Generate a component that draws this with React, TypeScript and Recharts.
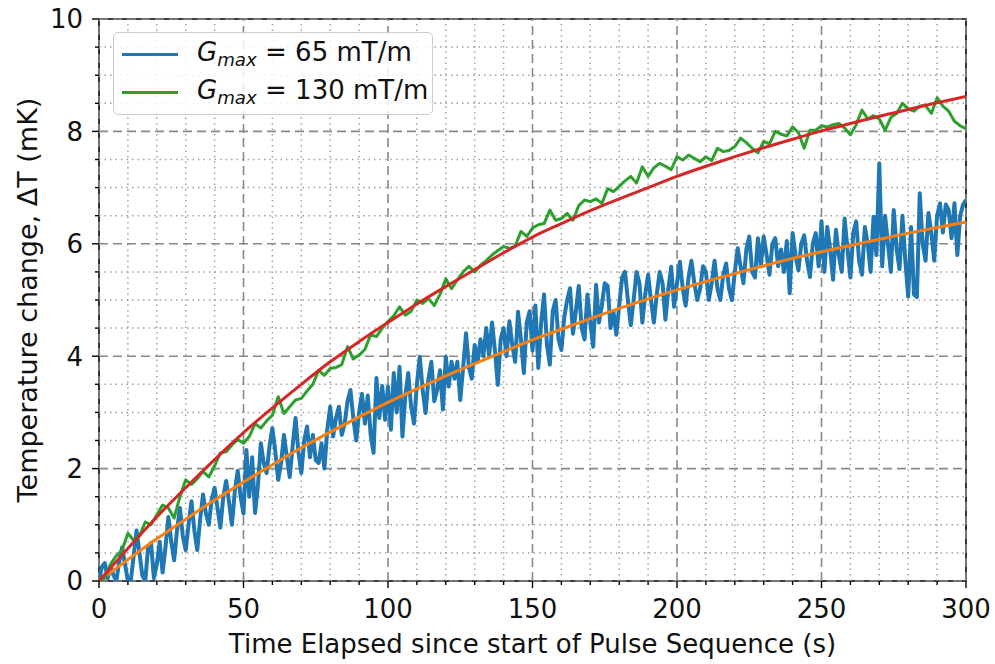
import { LineChart, Line, XAxis, YAxis, ReferenceLine, ReferenceArea, Legend } from "recharts";

// fitted curves, read every 10 s
const fitTime = [0, 10, 20, 30, 40, 50, 60, 70, 80, 90, 100, 110, 120, 130, 140, 150, 160, 170, 180, 190, 200, 210, 220, 230, 240, 250, 260, 270, 280, 290, 300];
const fit130 = [0, 0.58, 1.14, 1.66, 2.16, 2.64, 3.08, 3.5, 3.9, 4.26, 4.6, 4.93, 5.24, 5.54, 5.84, 6.12, 6.36, 6.59, 6.8, 7.0, 7.2, 7.38, 7.55, 7.71, 7.86, 8.01, 8.14, 8.27, 8.39, 8.51, 8.62];
const fit65 = [0, 0.38, 0.75, 1.1, 1.44, 1.76, 2.07, 2.37, 2.65, 2.92, 3.18, 3.42, 3.65, 3.87, 4.08, 4.29, 4.48, 4.67, 4.85, 5.02, 5.18, 5.33, 5.47, 5.61, 5.74, 5.86, 5.97, 6.08, 6.19, 6.29, 6.39];

// Gmax = 65 mT/m, one sample per second (0..300 s)
const meas65 = [
  0.0, 0.25, 0.32, 0.05, 0.27, 0.1, 0.0, 0.35, 0.6, 0.3,
  0.0, 0.0, 0.45, 0.9, 0.5, 0.1, 0.0, 0.6, 0.68, 0.05,
  0.3, 0.7, 0.15, 0.6, 1.14, 0.7, 0.37, 0.9, 1.3, 0.8,
  0.55, 1.0, 1.42, 0.9, 0.55, 1.1, 1.54, 1.2, 1.0, 1.45,
  1.66, 1.3, 0.95, 1.5, 1.78, 1.4, 1.0, 1.6, 1.96, 1.5,
  1.2, 2.33, 1.5, 2.2, 1.21, 1.7, 2.45, 2.1, 1.92, 2.4,
  2.72, 2.3, 1.8, 2.1, 2.6, 2.2, 1.85, 2.4, 2.9, 2.3,
  1.92, 2.5, 2.75, 2.2, 2.6, 2.15, 2.1, 2.45, 2.0, 2.7,
  3.1, 2.57, 2.9, 3.1, 2.6, 2.8, 3.2, 3.4, 2.9, 2.5,
  3.0, 3.33, 2.8, 3.3, 2.6, 2.28, 3.61, 2.9, 3.47, 2.87,
  3.46, 2.69, 3.7, 3.0, 3.81, 2.57, 3.3, 3.7, 3.1, 2.8,
  3.5, 3.99, 3.4, 2.99, 3.6, 3.9, 3.2, 3.4, 3.75, 3.05,
  3.99, 3.46, 3.9, 3.6, 3.9, 3.22, 3.8, 4.41, 3.8, 3.6,
  4.2, 3.9, 4.3, 4.0, 4.5, 4.0, 4.6, 4.1, 3.49, 4.3,
  4.5, 4.0, 4.62, 4.2, 3.9, 4.79, 4.3, 3.7, 4.6, 4.8,
  4.1, 4.9, 3.79, 4.6, 5.1, 4.2, 3.85, 4.8, 5.0, 4.3,
  4.11, 4.7, 5.0, 5.21, 4.4, 4.8, 5.25, 4.5, 4.3, 5.1,
  4.6, 4.17, 5.27, 4.6, 4.9, 5.3, 5.25, 4.5, 4.8, 4.38,
  4.9, 5.4, 5.5, 5.0, 4.55, 5.0, 5.5, 5.3, 4.6, 5.1,
  5.45, 5.0, 4.6, 5.1, 5.5, 5.3, 4.65, 5.2, 5.59, 4.88,
  5.3, 5.68, 5.2, 4.9, 5.4, 5.7, 5.3, 5.0, 5.2, 5.6,
  5.5, 5.0, 5.3, 5.7, 5.2, 5.0, 5.45, 5.65, 5.2, 5.0,
  5.5, 5.92, 5.6, 5.3, 5.9, 6.13, 5.5, 5.4, 6.1, 5.6,
  6.13, 5.8, 5.45, 6.0, 6.1, 5.6, 5.9, 5.5, 6.05, 5.12,
  6.19, 5.8, 5.53, 6.0, 6.15, 5.7, 5.41, 6.0, 6.19, 5.6,
  6.4, 5.5, 6.3, 5.9, 5.36, 6.25, 5.8, 5.5, 6.45, 5.9,
  5.4, 6.2, 6.4, 5.7, 5.45, 6.3, 6.0, 5.5, 6.48, 5.8,
  7.43, 5.6, 6.5, 6.0, 5.5, 6.6, 5.9, 5.55, 6.5, 5.7,
  5.06, 6.3, 5.1, 5.05, 6.9, 6.0, 5.7, 6.55, 6.2, 5.7,
  6.5, 6.72, 6.2, 6.7, 6.6, 6.1, 6.72, 5.8, 6.5, 6.7,
  6.78,
];

// Gmax = 130 mT/m, one sample every 2 s (0..300 s)
const meas130 = [
  0, 0.05, 0.3, 0.45, 0.55, 0.85, 0.72, 0.8, 1.05, 1.0,
  1.18, 1.35, 1.3, 1.12, 1.5, 1.8, 1.72, 1.82, 1.95, 1.85,
  2.05, 2.28, 2.3, 2.42, 2.52, 2.45, 2.57, 2.8, 2.72, 2.85,
  2.95, 3.28, 2.98, 3.1, 3.22, 3.25, 3.38, 3.5, 3.75, 3.66,
  3.78, 3.8, 3.85, 4.17, 3.95, 4.02, 4.12, 4.38, 4.35, 4.5,
  4.62, 4.72, 4.88, 4.73, 4.8, 5.0, 4.94, 5.03, 4.9, 5.1,
  5.38, 5.2, 5.36, 5.5, 5.6, 5.5, 5.62, 5.7, 5.8, 5.88,
  5.95, 5.92, 5.96, 6.22, 6.13, 6.28, 6.34, 6.36, 6.6, 6.42,
  6.45, 6.54, 6.42, 6.68, 6.78, 6.75, 6.8, 6.72, 6.98, 6.93,
  7.02, 7.12, 7.2, 7.08, 7.37, 7.2, 7.35, 7.43, 7.38, 7.32,
  7.55, 7.49, 7.58, 7.52, 7.46, 7.55, 7.48, 7.7, 7.64, 7.66,
  7.73, 7.88, 7.8, 7.7, 7.62, 7.82, 7.78, 8.0, 7.95, 7.92,
  8.08, 7.98, 7.7, 8.02, 8.02, 8.1, 8.08, 8.12, 8.14, 8.06,
  7.94, 8.12, 8.38, 8.22, 8.28, 8.22, 8.02, 8.25, 8.32, 8.5,
  8.4, 8.36, 8.45, 8.46, 8.32, 8.6, 8.45, 8.36, 8.18, 8.1,
  8.05,
];

const xTicks = [0, 10, 20, 30, 40, 50, 60, 70, 80, 90, 100, 110, 120, 130, 140, 150, 160, 170, 180, 190, 200, 210, 220, 230, 240, 250, 260, 270, 280, 290, 300];
const yTicks = [0, 0.5, 1, 1.5, 2, 2.5, 3, 3.5, 4, 4.5, 5, 5.5, 6, 6.5, 7, 7.5, 8, 8.5, 9, 9.5, 10];
const legendOrder = ["65 mT/m", "130 mT/m"];

const FONT = "DejaVu Sans, Verdana, sans-serif";
const FS = 26;

const data65 = meas65.map((v, i) => ({ t: i, v }));
const data130 = meas130.map((v, i) => ({ t: i * 2, v }));
const fitData65 = fitTime.map((t, i) => ({ t, v: fit65[i] }));
const fitData130 = fitTime.map((t, i) => ({ t, v: fit130[i] }));

const isMajorX = (v: number) => v % 50 === 0;
const isMajorY = (v: number) => v % 2 === 0;

function XTick(props: any) {
  const { x, y, payload } = props;
  const major = isMajorX(payload.value);
  return (
    <g>
      <line x1={x} x2={x} y1={y} y2={y + (major ? 7 : 4)} stroke="#000" strokeWidth={1.4} />
      {major && (
        <text x={x} y={y + 37} textAnchor="middle" fontSize={FS} fontFamily={FONT} fill="#111">
          {payload.value}
        </text>
      )}
    </g>
  );
}

function YTick(props: any) {
  const { x, y, payload } = props;
  const major = isMajorY(payload.value);
  return (
    <g>
      <line x1={x} x2={x - (major ? 7 : 4)} y1={y} y2={y} stroke="#000" strokeWidth={1.4} />
      {major && (
        <text x={x - 16} y={y} dy="0.36em" textAnchor="end" fontSize={FS} fontFamily={FONT} fill="#111">
          {payload.value}
        </text>
      )}
    </g>
  );
}

function LegendBox(props: any) {
  const items = (props.payload || [])
    .filter((p: any) => legendOrder.includes(p.value))
    .sort((a: any, b: any) => legendOrder.indexOf(a.value) - legendOrder.indexOf(b.value));
  return (
    <div
      style={{
        width: 320,
        height: 83,
        boxSizing: "border-box",
        border: "1px solid #cccccc",
        borderRadius: 5,
        background: "rgba(255,255,255,0.85)",
        fontFamily: FONT,
        fontSize: FS,
        color: "#111",
        position: "relative",
      }}
    >
      {items.map((p: any, i: number) => (
        <div key={p.value} style={{ position: "absolute", left: 8, top: 21 + i * 38 - 16, height: 32, display: "flex", alignItems: "center", whiteSpace: "nowrap" }}>
          <span style={{ display: "inline-block", width: 56, height: 3, background: p.color, marginRight: 19 }} />
          <span>
            <i>G</i>
            <sub style={{ fontSize: "70%", fontStyle: "italic", verticalAlign: "-0.3em" }}>max</sub>
            {" = " + p.value}
          </span>
        </div>
      ))}
    </div>
  );
}

export default function App() {
  const xMinor = xTicks.filter((v) => !isMajorX(v));
  const yMinor = yTicks.filter((v) => !isMajorY(v));
  const xMajor = xTicks.filter(isMajorX);
  const yMajor = yTicks.filter(isMajorY);
  return (
    <div style={{ position: "absolute", left: 0, top: 0, background: "#fff" }}>
      <LineChart width={995} height={664} margin={{ top: 19, right: 29, left: 0, bottom: 0 }}>
        {xMinor.map((v) => (
          <ReferenceLine key={"xm" + v} x={v} stroke="#a0a0a0" strokeWidth={1.5} strokeDasharray="1.5 4" />
        ))}
        {yMinor.map((v) => (
          <ReferenceLine key={"ym" + v} y={v} stroke="#a0a0a0" strokeWidth={1.5} strokeDasharray="1.5 4" />
        ))}
        {xMajor.map((v) => (
          <ReferenceLine key={"xM" + v} x={v} stroke="#888888" strokeWidth={1.6} strokeDasharray="9 5" />
        ))}
        {yMajor.map((v) => (
          <ReferenceLine key={"yM" + v} y={v} stroke="#888888" strokeWidth={1.6} strokeDasharray="9 5" />
        ))}
        <XAxis
          dataKey="t"
          type="number"
          domain={[0, 300]}
          ticks={xTicks}
          interval={0}
          allowDataOverflow
          height={83}
          tickSize={0}
          tickMargin={0}
          tickLine={false}
          axisLine={false}
          tick={<XTick />}
          label={{
            content: (p: any) => {
              const vb = p.viewBox || { x: 99, y: 581, width: 867, height: 83 };
              return (
                <text x={vb.x + vb.width / 2} y={vb.y + 72} textAnchor="middle" fontSize={FS} fontFamily={FONT} fill="#111">
                  Time Elapsed since start of Pulse Sequence (s)
                </text>
              );
            },
          }}
        />
        <YAxis
          type="number"
          domain={[0, 10]}
          ticks={yTicks}
          interval={0}
          allowDataOverflow
          width={99}
          tickSize={0}
          tickMargin={0}
          tickLine={false}
          axisLine={false}
          tick={<YTick />}
          label={{
            content: (p: any) => {
              const vb = p.viewBox || { x: 0, y: 19, width: 99, height: 562 };
              const cx = vb.x + 27;
              const cy = vb.y + vb.height / 2;
              return (
                <text x={cx} y={cy} dy="0.36em" transform={`rotate(-90 ${cx} ${cy})`} textAnchor="middle" fontSize={27} fontFamily={FONT} fill="#111">
                  Temperature change, ΔT (mK)
                </text>
              );
            },
          }}
        />
        <Line data={data65} dataKey="v" name="65 mT/m" type="linear" stroke="#1f77b4" strokeWidth={4} dot={false} strokeLinejoin="round" isAnimationActive={false} />
        <Line data={fitData65} dataKey="v" name="fit65" legendType="none" type="monotone" stroke="#ff7f0e" strokeWidth={3} dot={false} isAnimationActive={false} />
        <Line data={data130} dataKey="v" name="130 mT/m" type="linear" stroke="#2ca02c" strokeWidth={3} dot={false} strokeLinejoin="round" isAnimationActive={false} />
        <Line data={fitData130} dataKey="v" name="fit130" legendType="none" type="monotone" stroke="#d62728" strokeWidth={3} dot={false} isAnimationActive={false} />
        <ReferenceArea x1={0} x2={300} y1={0} y2={10} fill="none" stroke="#000" strokeWidth={1.6} />
        <Legend
          layout="vertical"
          align="center"
          verticalAlign="middle"
          wrapperStyle={{ left: 113, top: 32, width: 320 }}
          content={<LegendBox />}
        />
      </LineChart>
    </div>
  );
}
